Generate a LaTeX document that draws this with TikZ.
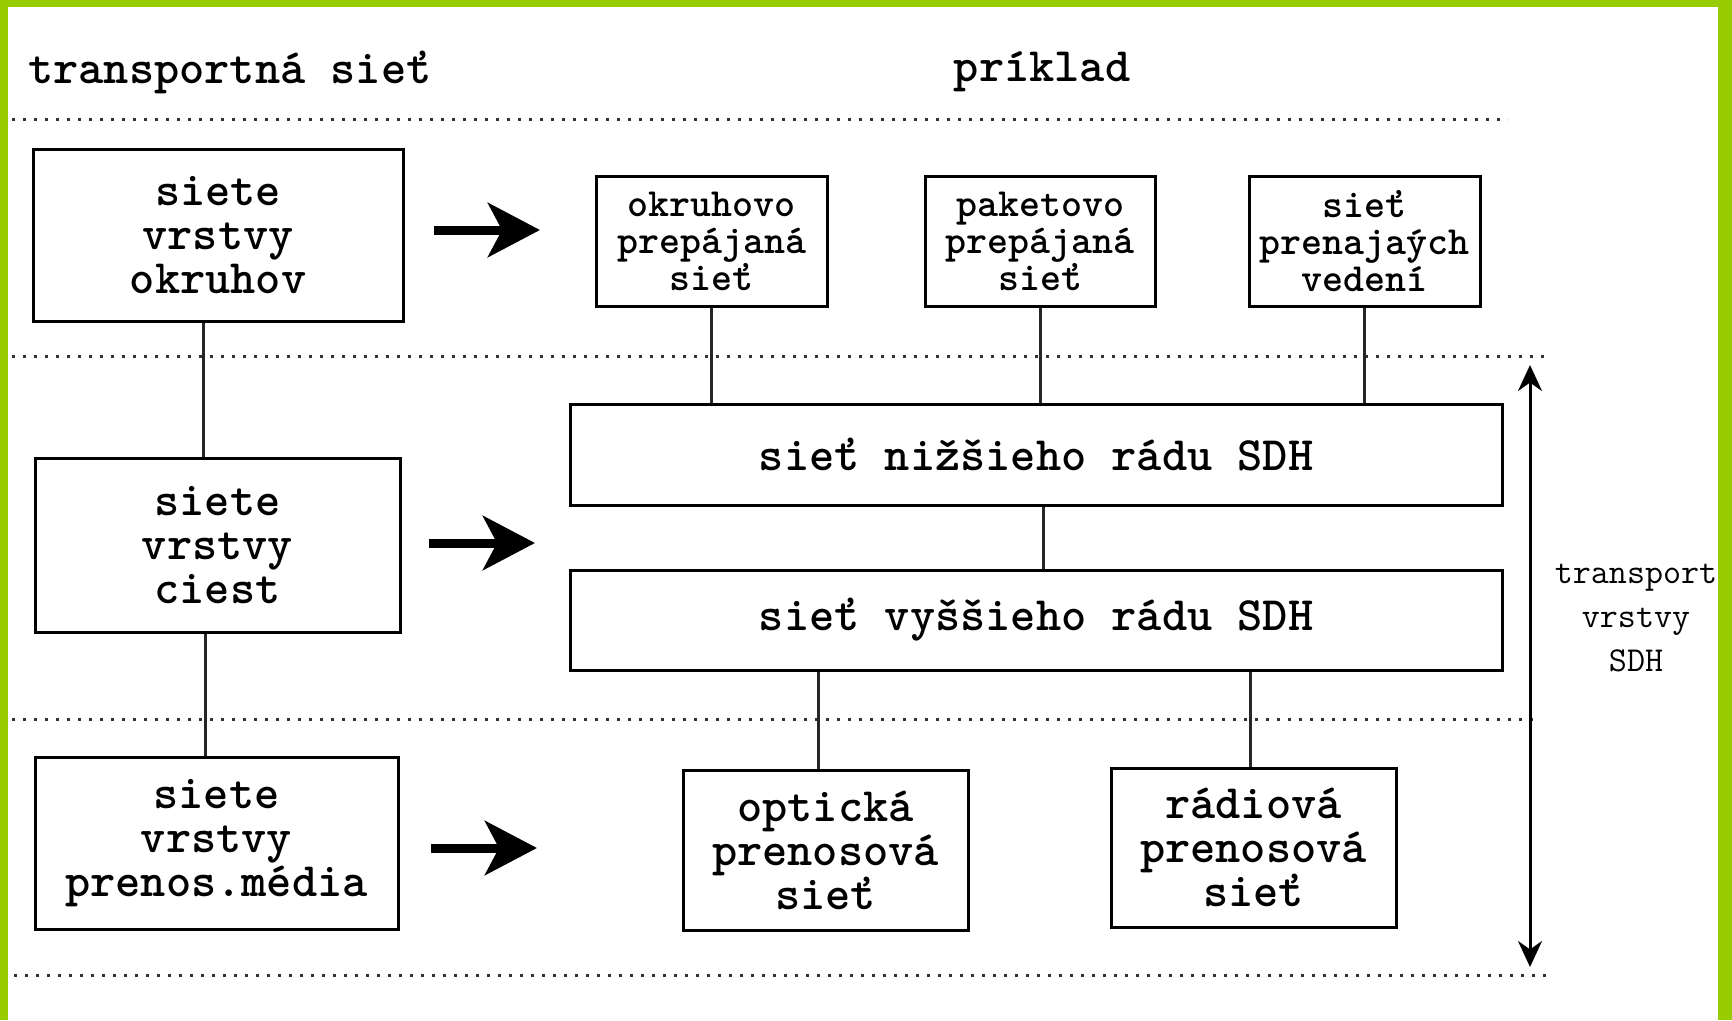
\documentclass[tikz,border=0pt]{standalone}
\usepackage{fontspec}
\usetikzlibrary{arrows.meta,calc}
\definecolor{framegreen}{HTML}{99CC00}
\begin{document}
\begin{tikzpicture}[x=1pt,y=-1pt,
  box/.style={draw=black,line width=3pt,rectangle,inner sep=0pt,align=center,
     font=\ttfamily\bfseries\fontsize{48}{44}\selectfont},
  smallbox/.style={box,font=\ttfamily\bfseries\fontsize{40}{37}\selectfont},
  conn/.style={draw=black!85,line width=3pt},
  dotline/.style={draw=black!80,line width=3pt,dash pattern=on 3pt off 8pt},
  bigarrow/.style={draw=black,line width=9pt,-{Stealth[length=52pt,width=54pt,inset=14pt]}},
  dblarrow/.style={draw=black,line width=3pt,{Stealth[length=26pt,width=24pt]}-{Stealth[length=26pt,width=24pt]}},
  header/.style={font=\ttfamily\bfseries\fontsize{48}{44}\selectfont,inner sep=0pt},
  sidelabel/.style={font=\ttfamily\fontsize{35}{44}\selectfont,align=center,inner sep=0pt}
]
\useasboundingbox (0,0) rectangle (1732,1020);
\fill[white] (0,0) rectangle (1732,1020);
% green frame
\fill[framegreen] (0,0) rectangle (1732,7);
\fill[framegreen] (0,0) rectangle (8,1020);
\fill[framegreen] (1718,0) rectangle (1732,1020);

% headers
\node[header,anchor=west] (h1) at (28,72) {transportná sieť};
\node[header] (h2) at (1042,72) {príklad};

% dotted lines
\coordinate (d1a) at (12,119); \coordinate (d1b) at (1508,119);
\coordinate (d2a) at (12,356); \coordinate (d2b) at (1546,356);
\coordinate (d3a) at (12,719); \coordinate (d3b) at (1535,719);
\coordinate (d4a) at (14,975); \coordinate (d4b) at (1546,975);
\draw[dotline] (d1a) -- (d1b);
\draw[dotline] (d2a) -- (d2b);
\draw[dotline] (d3a) -- (d3b);
\draw[dotline] (d4a) -- (d4b);

% left column
\node[box,minimum width=370pt,minimum height=172pt] (A1) at (218,235) {siete\\vrstvy\\okruhov};
\node[box,minimum width=365pt,minimum height=174pt] (A2) at (217.5,545) {siete\\vrstvy\\ciest};
\node[box,minimum width=363pt,minimum height=172pt] (A3) at (216.5,843) {siete\\vrstvy\\prenos.média};
\draw[conn] ([xshift=-15pt]A1.south) -- ([xshift=-15pt]A1.south |- A2.north);
\draw[conn] ([xshift=-12pt]A2.south) -- ([xshift=-12pt]A2.south |- A3.north);

% big arrows
\coordinate (r1a) at (434,230); \coordinate (r1b) at (540,230);
\coordinate (r2a) at (429,543); \coordinate (r2b) at (535,543);
\coordinate (r3a) at (431,848); \coordinate (r3b) at (537,848);
\draw[bigarrow] (r1a) -- (r1b);
\draw[bigarrow] (r2a) -- (r2b);
\draw[bigarrow] (r3a) -- (r3b);

% top example boxes
\node[smallbox,minimum width=231pt,minimum height=130pt] (B1) at (711.5,241) {okruhovo\\prepájaná\\sieť};
\node[smallbox,minimum width=230pt,minimum height=130pt] (B2) at (1040,241) {paketovo\\prepájaná\\sieť};
\node[smallbox,minimum width=231pt,minimum height=130pt] (B3) at (1364.5,241) {sieť\\prenajaých\\vedení};

% SDH boxes
\node[box,minimum width=932pt,minimum height=101pt] (C1) at (1036,454.5) {sieť nižšieho rádu SDH};
\node[box,minimum width=932pt,minimum height=100pt] (C2) at (1036,620) {sieť vyššieho rádu SDH};

\draw[conn] (B1.south) -- (B1.south |- C1.north);
\draw[conn] (B2.south) -- (B2.south |- C1.north);
\draw[conn] (B3.south) -- (B3.south |- C1.north);
\draw[conn] ([xshift=7pt]C1.south) -- ([xshift=7pt]C1.south |- C2.north);

% bottom boxes
\node[box,minimum width=285pt,minimum height=160pt] (D1) at (825.5,850) {optická\\prenosová\\sieť};
\node[box,minimum width=285pt,minimum height=159pt] (D2) at (1253.5,847.5) {rádiová\\prenosová\\sieť};
\draw[conn] ([xshift=-7pt]D1.north) -- ([xshift=-7pt]D1.north |- C2.south);
\draw[conn] ([xshift=-3pt]D2.north) -- ([xshift=-3pt]D2.north |- C2.south);

% vertical double arrow
\coordinate (va) at (1530,365); \coordinate (vb) at (1530,967);
\draw[dblarrow] (va) -- (vb);
\node[sidelabel] (side) at (1636,618) {transport\\vrstvy\\SDH};
\end{tikzpicture}
\end{document}
